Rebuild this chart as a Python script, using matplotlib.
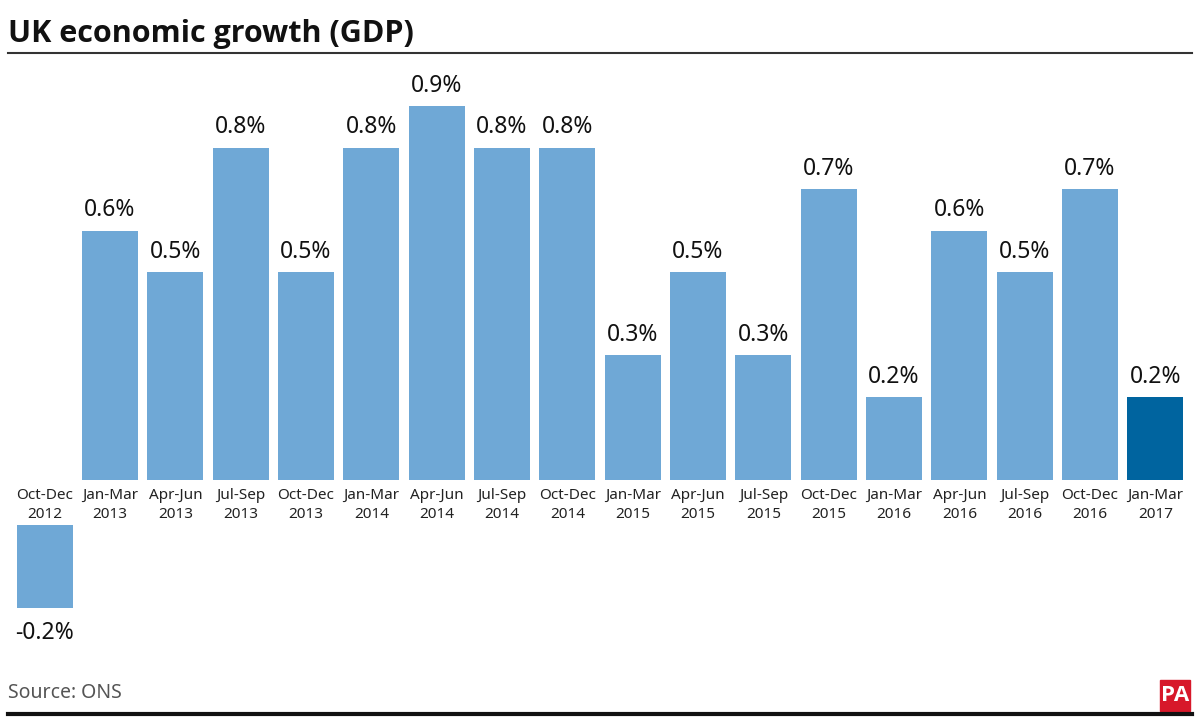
import matplotlib.pyplot as plt
from matplotlib.patches import Rectangle

plt.rcParams['font.family'] = ['Noto Sans', 'DejaVu Sans']

quarters = ["Oct-Dec\n2012", "Jan-Mar\n2013", "Apr-Jun\n2013", "Jul-Sep\n2013",
            "Oct-Dec\n2013", "Jan-Mar\n2014", "Apr-Jun\n2014", "Jul-Sep\n2014",
            "Oct-Dec\n2014", "Jan-Mar\n2015", "Apr-Jun\n2015", "Jul-Sep\n2015",
            "Oct-Dec\n2015", "Jan-Mar\n2016", "Apr-Jun\n2016", "Jul-Sep\n2016",
            "Oct-Dec\n2016", "Jan-Mar\n2017"]
growth = [-0.2, 0.6, 0.5, 0.8, 0.5, 0.8, 0.9, 0.8, 0.8, 0.3, 0.5, 0.3,
          0.7, 0.2, 0.6, 0.5, 0.7, 0.2]

light_blue = "#6fa8d6"
dark_blue = "#00649f"

fig = plt.figure(figsize=(12, 7.2), dpi=100)
ax = fig.add_axes([0.01, 0.0972, 0.98, 0.8194])

# gap left under the labels before a negative bar starts
label_gap = 0.108

for i, v in enumerate(growth):
    color = dark_blue if i == len(growth) - 1 else light_blue
    if v >= 0:
        ax.bar(i, v, width=0.857, color=color)
        ax.text(i, v + 0.02, f"{v:.1f}%", ha="center", va="bottom",
                fontsize=16.5, color="#111111")
    else:
        ax.bar(i, v, bottom=-label_gap, width=0.857, color=color)
        ax.text(i, v - label_gap - 0.03, f"{v:.1f}%", ha="center", va="top",
                fontsize=16.5, color="#111111")
    ax.text(i, -0.018, quarters[i], ha="center", va="top", fontsize=11,
            color="#222222", linespacing=1.4)

ax.set_xlim(-0.5, len(growth) - 0.5)
ax.set_ylim(-0.409, 1.0106)
ax.axis("off")

fig.text(0.007, 0.953, "UK economic growth (GDP)", fontsize=22, fontweight="bold",
         family=["Open Sans", "DejaVu Sans"], ha="left", va="center", color="#111111")
fig.add_artist(plt.Line2D([0.007, 0.993], [0.926, 0.926], color="#333333", lw=1.5))

fig.text(0.007, 0.037, "Source: ONS", fontsize=14, ha="left", va="center",
         color="#555555", fontweight="light")
fig.add_artist(plt.Line2D([0.007, 0.993], [0.008, 0.008], color="#111111", lw=3))

fig.add_artist(Rectangle((0.967, 0.013), 0.025, 0.043, transform=fig.transFigure,
                         color="#d7182a"))
fig.text(0.9795, 0.0345, "PA", fontsize=16, fontweight="bold", color="white",
         family=["Open Sans", "DejaVu Sans"], stretch="condensed",
         ha="center", va="center")

fig.savefig("out.png", dpi=100)
